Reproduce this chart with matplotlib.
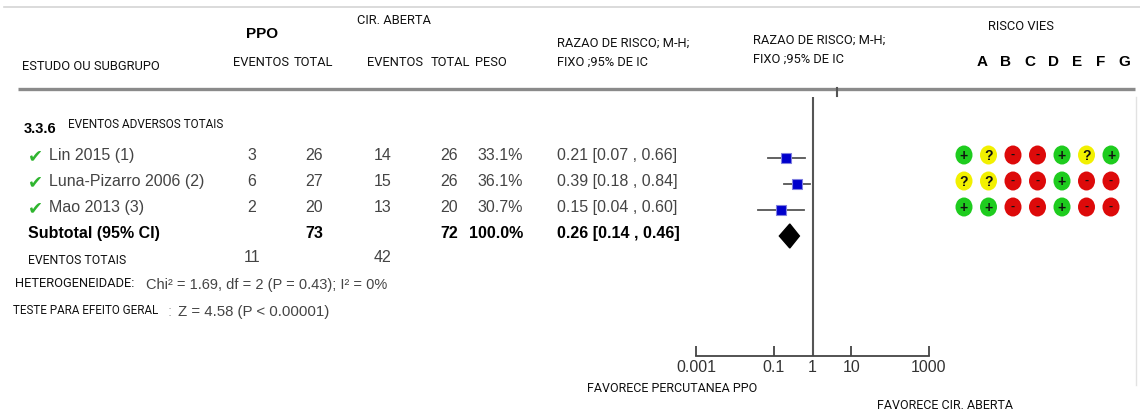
import matplotlib
matplotlib.use("Agg")
import matplotlib.pyplot as plt
from matplotlib.patches import Ellipse

# studies and their 2x2 counts
studies = ["Lin 2015 (1)", "Luna-Pizarro 2006 (2)", "Mao 2013 (3)"]
ppo_events = [3, 6, 2]
ppo_total = [26, 27, 20]
open_events = [14, 15, 13]
open_total = [26, 26, 20]
weights = [33.1, 36.1, 30.7]
rr = [0.21, 0.39, 0.15]
rr_low = [0.07, 0.18, 0.04]
rr_high = [0.66, 0.84, 0.60]

# pooled estimate
pooled_rr = 0.26
pooled_low = 0.14
pooled_high = 0.46
sum_ppo_total = 73
sum_open_total = 72
sum_ppo_events = 11
sum_open_events = 42

# risk of bias, domains A..G
bias_domains = ["A", "B", "C", "D", "E", "F", "G"]
bias = ["+?--+?+", "??--+--", "++--+--"]
bias_colors = {"+": "#1ecc1e", "?": "#f2f000", "-": "#dd0a0a"}

axis_ticks = [0.001, 0.1, 1, 10, 1000]
axis_labels = ["0.001", "0.1", "1", "10", "1000"]

W, H = 1140, 414
narrow = "Roboto"
arial = "Liberation Sans"

fig = plt.figure(figsize=(W / 100, H / 100), dpi=100)
ax = fig.add_axes([0, 0, 1, 1])
ax.set_xlim(0, W)
ax.set_ylim(H, 0)
ax.axis("off")


def hdr(x, y, s, size=9.3, ha="left", **kw):
    ax.text(x, y, s, fontsize=size, family=narrow, ha=ha, va="center", color="#111", **kw)


def cell(x, y, s, ha="center", bold=False, color="#444444", size=11.5):
    ax.text(x, y, s, fontsize=size, family=arial, ha=ha, va="center",
            color="black" if bold else color, fontweight="bold" if bold else "normal")


# header rules
ax.plot([4, W], [8, 8], color="#d4d4d4", lw=1.2)
ax.plot([18, 1135], [89.5, 89.5], color="#8a8a8a", lw=2.4, solid_capstyle="butt")
ax.plot([837, 837], [89, 97], color="#555", lw=1.5)
ax.plot([1136, 1136], [98, 386], color="#e2e2e2", lw=1)

# column headers
ax.text(262, 34, "PPO", fontsize=11, family=arial, fontweight="bold", ha="center", va="center")
hdr(394, 20, "CIR. ABERTA", ha="center")
hdr(22, 66, "ESTUDO OU SUBGRUPO")
hdr(261, 62, "EVENTOS", ha="center")
hdr(313, 62, "TOTAL", ha="center")
hdr(395, 62, "EVENTOS", ha="center")
hdr(450, 62, "TOTAL", ha="center")
hdr(491, 62, "PESO", ha="center")
hdr(557, 43, "RAZAO DE RISCO; M-H;")
hdr(557, 62, "FIXO ;95% DE IC")
hdr(753, 40, "RAZAO DE RISCO; M-H;")
hdr(753, 59, "FIXO ;95% DE IC")
hdr(1021, 27, "RISCO VIES", ha="center")
for i, d in enumerate(bias_domains):
    ax.text(982 + i * 23.7, 62, d, fontsize=11, family=arial, fontweight="bold",
            ha="center", va="center")

# subgroup title
ax.text(24, 129, "3.3.6", fontsize=10.5, family=arial, fontweight="bold", ha="left", va="center")
hdr(68, 125, "EVENTOS ADVERSOS TOTAIS", size=8.5)

row_y = [156, 182, 208]
for i, name in enumerate(studies):
    y = row_y[i]
    ax.text(35, y, "\u2714", fontsize=13, family="DejaVu Sans", color="#2fb52f",
            ha="center", va="center")
    cell(49, y, name, ha="left")
    cell(252, y, str(ppo_events[i]))
    cell(314, y, str(ppo_total[i]))
    cell(383, y, str(open_events[i]))
    cell(449, y, str(open_total[i]))
    cell(523, y, f"{weights[i]:.1f}%", ha="right")
    cell(557, y, f"{rr[i]:.2f} [{rr_low[i]:.2f} , {rr_high[i]:.2f}]", ha="left")
    for j, mark in enumerate(bias[i]):
        cx = 964 + j * 24.5
        ax.add_patch(Ellipse((cx, y), 17, 19, color=bias_colors[mark], lw=0))
        ax.text(cx, y - (1 if mark == "-" else 0), mark, fontsize=10 if mark != "-" else 9,
                family=arial, fontweight="bold", ha="center", va="center", color="#111")

ys = 234
cell(28, ys, "Subtotal (95% CI)", ha="left", bold=True)
cell(314, ys, str(sum_ppo_total), bold=True)
cell(449, ys, str(sum_open_total), bold=True)
cell(523, ys, "100.0%", ha="right", bold=True)
cell(557, ys, f"{pooled_rr:.2f} [{pooled_low:.2f} , {pooled_high:.2f}]", ha="left", bold=True)

hdr(28, 261, "EVENTOS TOTAIS", size=8.8)
cell(252, 258, str(sum_ppo_events))
cell(383, 258, str(sum_open_events))
hdr(15, 284, "HETEROGENEIDADE:", size=9.3)
cell(146, 285, "Chi\u00b2 = 1.69, df = 2 (P = 0.43); I\u00b2 = 0%", ha="left", size=10.5)
hdr(13, 311, "TESTE PARA EFEITO GERAL", size=8.4)
cell(168, 312, ":", ha="left", color="#aaaaaa", size=11)
cell(178, 312, "Z = 4.58 (P < 0.00001)", ha="left", size=10.8)

hdr(587, 389, "FAVORECE PERCUTANEA PPO", size=9)
hdr(877, 406, "FAVORECE CIR. ABERTA", size=9)

# forest panel on a log scale; y stays in figure pixels
x0, x1 = 696, 929
y_top, y_bot = 98, 357
fax = fig.add_axes([x0 / W, 1 - y_bot / H, (x1 - x0) / W, (y_bot - y_top) / H])
fax.set_xscale("log")
fax.set_xlim(axis_ticks[0], axis_ticks[-1])
fax.set_ylim(y_bot, y_top)
fax.patch.set_alpha(0)
for side in ("top", "right", "left"):
    fax.spines[side].set_visible(False)
fax.spines["bottom"].set_color("#444")
fax.spines["bottom"].set_linewidth(1.3)
fax.set_yticks([])
fax.set_xticks(axis_ticks)
fax.set_xticklabels(axis_labels)
fax.minorticks_off()
fax.tick_params(axis="x", direction="in", length=7, width=1.3, color="#444",
                labelsize=11.5, pad=2, labelcolor="#333")
for lab in fax.get_xticklabels():
    lab.set_family(arial)
fax.axvline(1, color="#555", lw=1.5)

forest_y = [y + 3 for y in row_y]
for i in range(len(studies)):
    fax.plot([rr_low[i], rr_high[i]], [forest_y[i], forest_y[i]], color="#555", lw=1.3)
    fax.plot(rr[i], forest_y[i], marker="s", ms=7.5, color="#0000cc", mec="#8080e0", mew=0.8)

yd = ys + 3
dy = 12
fax.fill([pooled_low, pooled_rr, pooled_high, pooled_rr],
         [yd, yd - dy, yd, yd + dy], color="black")

fig.savefig("out.png", dpi=100)
